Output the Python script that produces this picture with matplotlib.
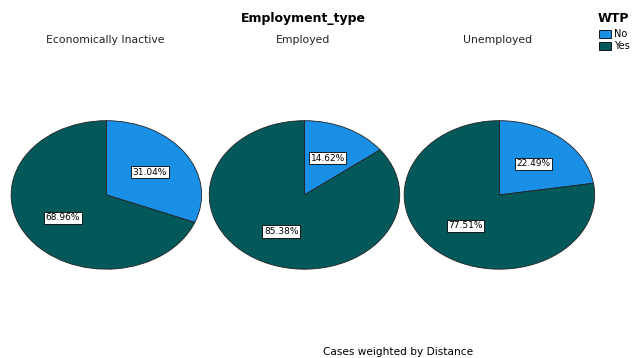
import matplotlib.pyplot as plt
from matplotlib.patches import Patch

# data
groups = ['Economically Inactive', 'Employed', 'Unemployed']
labels = ['No', 'Yes']
no_pct = [31.04, 14.62, 22.49]
yes_pct = [68.96, 85.38, 77.51]
colors = ['#1a8fe6', '#03595a']

fig = plt.figure(figsize=(6.35, 3.58), dpi=100)

lefts = [0.016, 0.328, 0.635]
title_x = [0.165, 0.477, 0.784]
for i, g in enumerate(groups):
    ax = fig.add_axes([lefts[i], 0.246, 0.303, 0.419])
    vals = [no_pct[i], yes_pct[i]]
    wedges, texts, autotexts = ax.pie(
        vals, colors=colors, startangle=90, counterclock=False,
        autopct='%.2f%%', pctdistance=0.55,
        wedgeprops=dict(edgecolor='#222222', linewidth=0.6),
        textprops=dict(fontsize=6.5, color='black'))
    for t in autotexts:
        t.set_bbox(dict(facecolor='white', edgecolor='black', linewidth=0.6, pad=1.2))
    ax.set_aspect('auto')
    ax.set_xlim(-1.01, 1.01)
    ax.set_ylim(-1.01, 1.01)
    fig.text(title_x[i], 0.888, g, ha='center', va='center', fontsize=7.8, color='#222222')

fig.text(0.478, 0.948, 'Employment_type', ha='center', va='center', fontsize=9, fontweight='bold')
fig.text(0.966, 0.948, 'WTP', ha='center', va='center', fontsize=9, fontweight='bold')

handles = [Patch(facecolor=c, edgecolor='black', linewidth=0.6) for c in colors]
fig.legend(handles, labels, loc='upper left', bbox_to_anchor=(0.944, 0.918),
           frameon=False, fontsize=7, handlelength=1.2, handleheight=1.0,
           handletextpad=0.25, labelspacing=0.2, borderpad=0, borderaxespad=0)

fig.text(0.627, 0.017, 'Cases weighted by Distance', ha='center', va='center', fontsize=7.6)

fig.savefig('out.png', dpi=100)
